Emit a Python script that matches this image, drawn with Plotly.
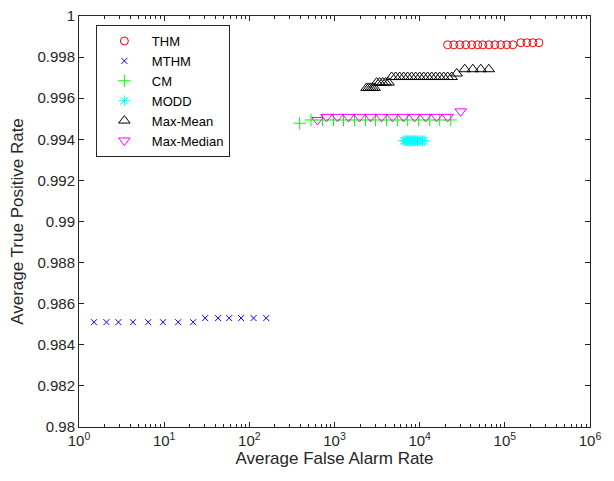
import plotly.graph_objects as go

# ---- data ----
thm_x = [21300, 25100, 29600, 34800, 40900, 48100, 55100, 64900, 76300, 89700, 105600, 124200,
         154200, 181500, 213500, 251200]
thm_y = [0.9986] * 12 + [0.9987] * 4

mthm_x = [1.5, 2.1, 2.9, 4.3, 6.5, 9.7, 14.6, 21.9, 30.3, 43, 58, 80, 112, 158]
mthm_y = [0.9851] * 8 + [0.9853] * 6

cm_x = [390, 530, 722, 973, 1276, 1719, 2315, 3037, 4091, 5510, 7227, 9733, 13110, 17190, 23160]
cm_y = [0.99478] + [0.99494] * 14

modd_x = [6500, 6750, 7000, 7250, 7500, 7800, 8100, 8400, 8700, 9000, 9400, 9800, 10300, 10800, 11300]
modd_y = [0.99393] * 15

maxmean_x = [2378, 2512, 2652, 2800, 2958,
             3120, 3381, 3672, 3981, 4318,
             4688, 5223, 5821, 6486, 7226, 8052, 8973, 10000, 11140, 12420, 13840, 15420,
             17180, 19150, 21340, 23780,
             27230, 33840, 42070, 52200, 64860]
maxmean_y = ([0.9965] * 5 + [0.99676] * 5 + [0.99703] * 16 + [0.9972] + [0.99741] * 4)

maxmed_x = [631, 805, 1084, 1461, 1968, 2652, 3572, 4812, 6483, 8733, 11770, 15850, 21350, 30360]
maxmed_y = [0.99494] + [0.99509] * 12 + [0.99536]

x_tickvals = [1, 10, 100, 1000, 10000, 100000, 1000000]
x_ticktext = ["10<sup>0</sup>", "10<sup>1</sup>", "10<sup>2</sup>", "10<sup>3</sup>",
              "10<sup>4</sup>", "10<sup>5</sup>", "10<sup>6</sup>"]
y_tickvals = [0.98, 0.982, 0.984, 0.986, 0.988, 0.99, 0.992, 0.994, 0.996, 0.998, 1.0]
y_ticktext = ["0.98", "0.982", "0.984", "0.986", "0.988", "0.99", "0.992", "0.994",
              "0.996", "0.998", "1"]

# minor ticks of the log axis: 2..9 within each decade
x_minor = [m * d for d in x_tickvals[:-1] for m in range(2, 10)]

series = [
    ("THM", thm_x, thm_y, "circle-open", "rgb(255,0,0)", 8),
    ("MTHM", mthm_x, mthm_y, "x-thin-open", "rgb(0,0,255)", 6),
    ("CM", cm_x, cm_y, "cross-thin-open", "rgb(0,255,0)", 9),
    ("MODD", modd_x, modd_y, "asterisk-open", "rgb(0,255,255)", 9),
    ("Max-Mean", maxmean_x, maxmean_y, "triangle-up-open", "rgb(0,0,0)", 10),
    ("Max-Median", maxmed_x, maxmed_y, "triangle-down-open", "rgb(255,0,255)", 10),
]

fig = go.Figure()
for name, xs, ys, sym, col, sz in series:
    fig.add_trace(go.Scatter(
        x=xs, y=ys, mode="markers", name=name,
        marker=dict(symbol=sym, color=col, size=sz, line=dict(color=col, width=1)),
    ))

axis_col = "rgb(38,38,38)"
font_fam = "Liberation Sans, Arial, sans-serif"

fig.update_layout(
    width=606, height=465,
    margin=dict(l=71, r=24, t=8, b=46),
    paper_bgcolor="white", plot_bgcolor="white",
    font=dict(family=font_fam, color=axis_col, size=15),
    showlegend=True,
    legend=dict(
        x=0.033, y=0.978, xanchor="left", yanchor="top",
        bordercolor=axis_col, borderwidth=1, bgcolor="white",
        font=dict(size=13, color="black"), itemwidth=45,
        tracegroupgap=0,
    ),
    xaxis=dict(
        type="log", range=[0, 6],
        tickvals=x_tickvals, ticktext=x_ticktext,
        ticks="inside", ticklen=5, tickcolor=axis_col,
        showline=True, linecolor=axis_col, linewidth=1, mirror="allticks",
        showgrid=False, zeroline=False,
        minor=dict(ticks="inside", ticklen=3, tickcolor=axis_col, tickvals=x_minor, showgrid=False),
        title=dict(text="Average False Alarm Rate", font=dict(size=17), standoff=3),
        tickfont=dict(size=15),
        ticklabeloverflow="allow",
        automargin=False,
    ),
    yaxis=dict(
        range=[0.98, 1.0],
        tickvals=y_tickvals, ticktext=y_ticktext,
        ticks="inside", ticklen=5, tickcolor=axis_col,
        showline=True, linecolor=axis_col, linewidth=1, mirror="allticks",
        showgrid=False, zeroline=False,
        title=dict(text="Average True Positive Rate", font=dict(size=17), standoff=10),
        tickfont=dict(size=15),
        ticklabeloverflow="allow",
        automargin=False,
    ),
)

fig.write_html("out.html")
